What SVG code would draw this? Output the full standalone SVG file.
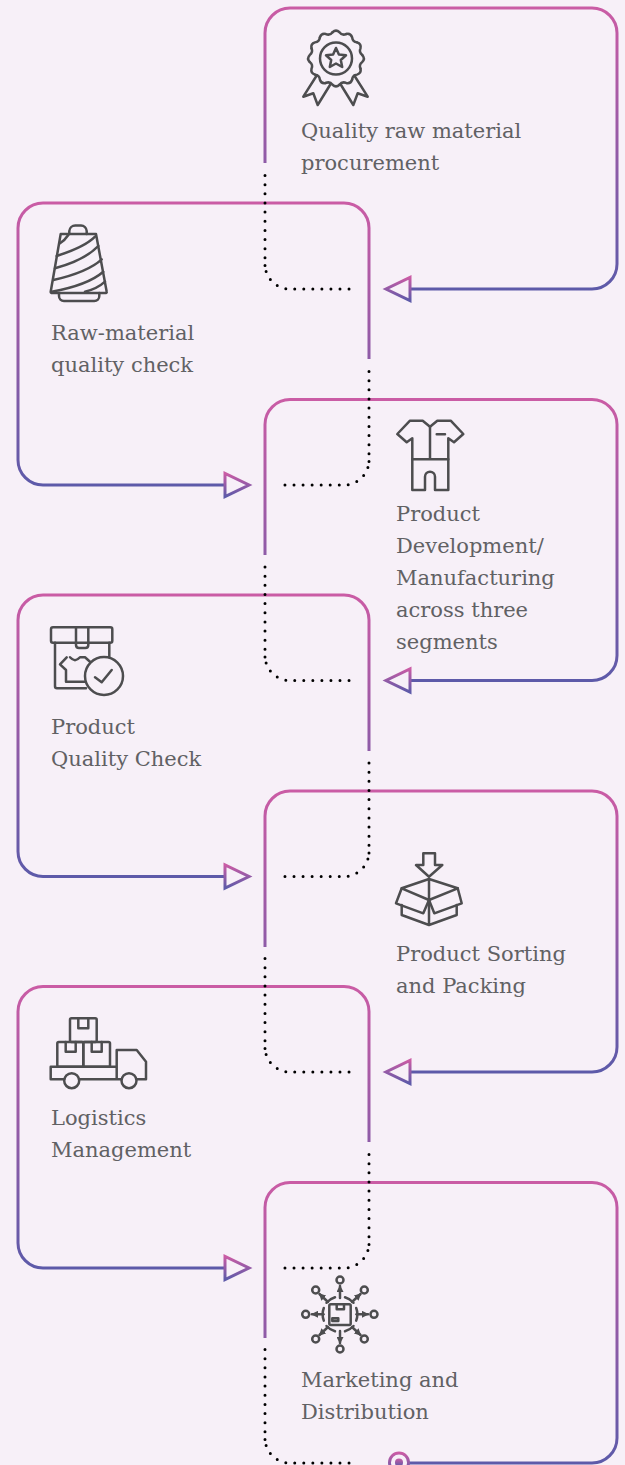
<svg xmlns="http://www.w3.org/2000/svg" width="625" height="1465" viewBox="0 0 625 1465">
<style>
.t{font-family:"DejaVu Serif","Liberation Serif",serif;font-size:21px;fill:#616164;font-weight:400}
.i{fill:none;stroke:#4d4d4f;stroke-width:2.5;stroke-linejoin:round;stroke-linecap:round}
.f{stroke:url(#g);stroke-width:3;fill:none;stroke-linecap:butt}
.d{stroke:#000;stroke-width:3;fill:none;stroke-linecap:round;stroke-dasharray:0 9.15}
.c{stroke:#000;stroke-width:3;fill:none;stroke-linecap:round;stroke-dasharray:0 9.05}
</style>
<defs>
<linearGradient id="g" x1="0" y1="0" x2="0" y2="1"><stop offset="0" stop-color="#ca5ca5"/><stop offset="1" stop-color="#5d5aa9"/></linearGradient>
<marker id="ah" viewBox="0 0 7 7" refX="6" refY="3.500" markerWidth="7" markerHeight="7" markerUnits="userSpaceOnUse" orient="auto"><path d="M0 0L7 3.500L0 7Z" fill="#4d4d4f"/></marker>
<path id="w" d="M-3.460-26.270Q0-29.500 3.460-26.270Q6.080-22.700 10.140-24.480"/>
</defs>
<rect width="625" height="1465" fill="#f7f0f8"/>
<g id="connectors">
<path class="f" d="M265 163V33A25 25 0 0 1 290 8H592A25 25 0 0 1 617 33V264A25 25 0 0 1 592 289H411"/>
<path class="f" d="M369 359V228A25 25 0 0 0 344 203H43A25 25 0 0 0 18 228V460A25 25 0 0 0 43 485H225"/>
<path class="f" d="M265 555V424.500A25 25 0 0 1 290 399.500H592A25 25 0 0 1 617 424.500V655.500A25 25 0 0 1 592 680.500H411"/>
<path class="f" d="M369 751V620A25 25 0 0 0 344 595H43A25 25 0 0 0 18 620V851.500A25 25 0 0 0 43 876.500H225"/>
<path class="f" d="M265 947V816A25 25 0 0 1 290 791H592A25 25 0 0 1 617 816V1047A25 25 0 0 1 592 1072H411"/>
<path class="f" d="M369 1142V1011.500A25 25 0 0 0 344 986.500H43A25 25 0 0 0 18 1011.500V1243A25 25 0 0 0 43 1268H225"/>
<path class="f" d="M265 1338V1207.500A25 25 0 0 1 290 1182.500H592A25 25 0 0 1 617 1207.500V1438A25 25 0 0 1 592 1463H408"/>
<path class="f" d="M410 277.500V300.500L386 289Z"/>
<path class="f" d="M225 473.500V496.500L249 485Z"/>
<path class="f" d="M410 669V692L386 680.500Z"/>
<path class="f" d="M225 865V888L249 876.500Z"/>
<path class="f" d="M410 1060.500V1083.500L386 1072Z"/>
<path class="f" d="M225 1256.500V1279.500L249 1268Z"/>
<circle cx="399" cy="1462.500" r="9.500" fill="#f7f0f8" stroke="url(#g)" stroke-width="3"/>
<circle cx="399" cy="1462.500" r="4" fill="url(#g)"/>
<path class="d" d="M265 175.500V259"/>
<path class="c" d="M265 265.500V264A25 25 0 0 0 290 289H353"/>
<path class="d" d="M369 371.500V455"/>
<path class="c" d="M369 461.500V460A25 25 0 0 1 344 485H282"/>
<path class="d" d="M265 567V650.500"/>
<path class="c" d="M265 657V655.500A25 25 0 0 0 290 680.500H353"/>
<path class="d" d="M369 763V846.500"/>
<path class="c" d="M369 853V851.500A25 25 0 0 1 344 876.500H282"/>
<path class="d" d="M265 958.500V1042"/>
<path class="c" d="M265 1048.500V1047A25 25 0 0 0 290 1072H353"/>
<path class="d" d="M369 1154.500V1238"/>
<path class="c" d="M369 1244.500V1243A25 25 0 0 1 344 1268H282"/>
<path class="d" d="M265 1349.500V1433"/>
<path class="c" d="M265 1439.500V1438A25 25 0 0 0 290 1463H353"/>
</g>
<g id="node1">
<g class="i" transform="translate(336 58.500)">
<use href="#w"/><use href="#w" transform="rotate(30)"/><use href="#w" transform="rotate(60)"/><use href="#w" transform="rotate(90)"/><use href="#w" transform="rotate(120)"/><use href="#w" transform="rotate(150)"/><use href="#w" transform="rotate(180)"/><use href="#w" transform="rotate(210)"/><use href="#w" transform="rotate(240)"/><use href="#w" transform="rotate(270)"/><use href="#w" transform="rotate(300)"/><use href="#w" transform="rotate(330)"/>
<circle r="16"/>
<path d="M0-10.500L2.900-4L10-3.200L4.800 1.500L6.200 8.500L0 5L-6.200 8.500L-4.800 1.500L-10-3.200L-2.900-4Z"/>
<path d="M-19.300 17L-32.700 38.200L-22.700 34.800L-18.300 46.500L-6 26.500"/>
<path d="M18.300 17L31.700 38.200L21.700 34.800L17.300 46.500L5 26.500"/>
</g>
<text class="t" x="301" y="138">Quality raw material</text>
<text class="t" x="301" y="170">procurement</text>
</g>
<g id="node2">
<g class="i">
<path d="M60.700 234H96L106.700 291.700Q107 293 105 293H52.500Q50.500 293 50.700 291.700Z"/>
<path d="M69.300 234V231A6 6 0 0 1 75.300 225.500H81A6 6 0 0 1 86.700 231V234"/>
<path d="M59 293V296A5 5 0 0 0 64 301H94.300A5 5 0 0 0 99.300 296V293"/>
<path d="M60 243.300Q65 240 68.300 235"/>
<path d="M56.700 256Q85 247 95 236.700"/>
<path d="M55 268.300Q85 260 98.300 246"/>
<path d="M53.300 280Q88 272 101.700 259.300"/>
<path d="M51.700 291.700Q88 285 103.300 271.700"/>
<path d="M85 291.700Q97 289 105 281.700"/>
</g>
<text class="t" x="51" y="340">Raw-material</text>
<text class="t" x="51" y="372">quality check</text>
</g>
<g id="node3">
<g class="i">
<path d="M430 426.700L422.700 420.700H410L397.300 434L406.700 442.300L412.300 438.300V490H425V476.700A5 5 0 0 1 435 476.700V490H448.300V438.300L454 442.300L463.300 434L450.700 420.700H437.300Z"/>
<path d="M430 426.700V459.300M412.300 459.300H448.300M436.700 434.300H445"/>
</g>
<text class="t" x="396" y="521">Product</text>
<text class="t" x="396" y="553">Development/</text>
<text class="t" x="396" y="585">Manufacturing</text>
<text class="t" x="396" y="617">across three</text>
<text class="t" x="396" y="649">segments</text>
</g>
<g id="node4">
<g class="i">
<rect x="51" y="627.300" width="61.300" height="15.400" rx="2"/>
<path d="M55 642.700V686.300Q55 688.300 57 688.300H86M109.300 642.700V657"/>
<path d="M76 627.300V645Q76 648 79 648H85.300Q88.300 648 88.300 645V627.300"/>
<path d="M66.700 657.300L60 664.300L66 670V681.700H85M70 657.300Q75 663 80 657.300H85L90 661.700"/>
<circle cx="104" cy="676" r="19"/>
<path d="M95 677.300L101.700 682.300L111.700 670"/>
</g>
<text class="t" x="51" y="734">Product</text>
<text class="t" x="51" y="766">Quality Check</text>
</g>
<g id="node5">
<g class="i">
<path d="M423.300 853.300H435V865H442.300L429 876.700L416 865H423.300Z"/>
<path d="M429 879L457.700 888.300L429 900L401.700 888.300Z"/>
<path d="M429 879V925M401.700 905V915L429 925L456.700 915V905"/>
<path d="M401.700 888.300L396 903.300L423.300 913.300L429 900L434.300 913.300L461.700 903.300L457.700 888.300"/>
</g>
<text class="t" x="396" y="961">Product Sorting</text>
<text class="t" x="396" y="993">and Packing</text>
</g>
<g id="node6">
<g class="i">
<rect x="70" y="1018.300" width="26.700" height="23.700" rx="1.500"/>
<path d="M78.300 1018.300V1028.300H88.300V1018.300"/>
<rect x="57.300" y="1042" width="26" height="24.700" rx="1.500"/>
<path d="M65.700 1042V1051.700H75.700V1042"/>
<rect x="83.300" y="1042" width="26.700" height="24.700" rx="1.500"/>
<path d="M91.700 1042V1051.700H101.700V1042"/>
<path d="M116.700 1066.700H50.700V1079.300H64M79.300 1079.300H121.700M116.700 1079.300V1050H136.700L146 1061.700V1079.300H136.700"/>
<circle cx="71.700" cy="1080.700" r="7.500"/>
<circle cx="129" cy="1080.700" r="7.500"/>
</g>
<text class="t" x="51" y="1125">Logistics</text>
<text class="t" x="51" y="1157">Management</text>
</g>
<g id="node7">
<g class="i">
<rect x="329.300" y="1304.300" width="21.400" height="20.700" rx="1.500"/>
<path d="M336.700 1304.300V1309.300H344V1304.300"/>
<rect x="332.300" y="1318.300" width="6" height="2.700"/>
<path d="M335 1297.300A17.700 17.700 0 0 0 326.500 1302.800M323.800 1308A17.700 17.700 0 0 0 323.800 1320.600M326.500 1326A17.700 17.700 0 0 0 335 1331.300M345 1331.300A17.700 17.700 0 0 0 353.500 1326M356.200 1320.600A17.700 17.700 0 0 0 356.200 1308M353.500 1302.800A17.700 17.700 0 0 0 345 1297.300"/>
<path marker-end="url(#ah)" d="M340 1298V1286"/>
<path marker-end="url(#ah)" d="M340 1331V1343"/>
<path marker-end="url(#ah)" d="M323.500 1314.300H312"/>
<path marker-end="url(#ah)" d="M356.500 1314.300H368"/>
<path marker-end="url(#ah)" d="M328 1302L319.500 1294"/>
<path marker-end="url(#ah)" d="M352 1302L360.500 1294"/>
<path marker-end="url(#ah)" d="M328 1327L319.500 1335"/>
<path marker-end="url(#ah)" d="M352 1327L360.500 1335"/>
<circle cx="340" cy="1280" r="3.500"/>
<circle cx="340" cy="1349" r="3.500"/>
<circle cx="305.700" cy="1314.300" r="3.500"/>
<circle cx="374" cy="1314.300" r="3.500"/>
<circle cx="315.700" cy="1290" r="3.500"/>
<circle cx="364.300" cy="1290" r="3.500"/>
<circle cx="315.700" cy="1339" r="3.500"/>
<circle cx="364.300" cy="1339" r="3.500"/>
</g>
<text class="t" x="301" y="1387">Marketing and</text>
<text class="t" x="301" y="1419">Distribution</text>
</g>
</svg>
